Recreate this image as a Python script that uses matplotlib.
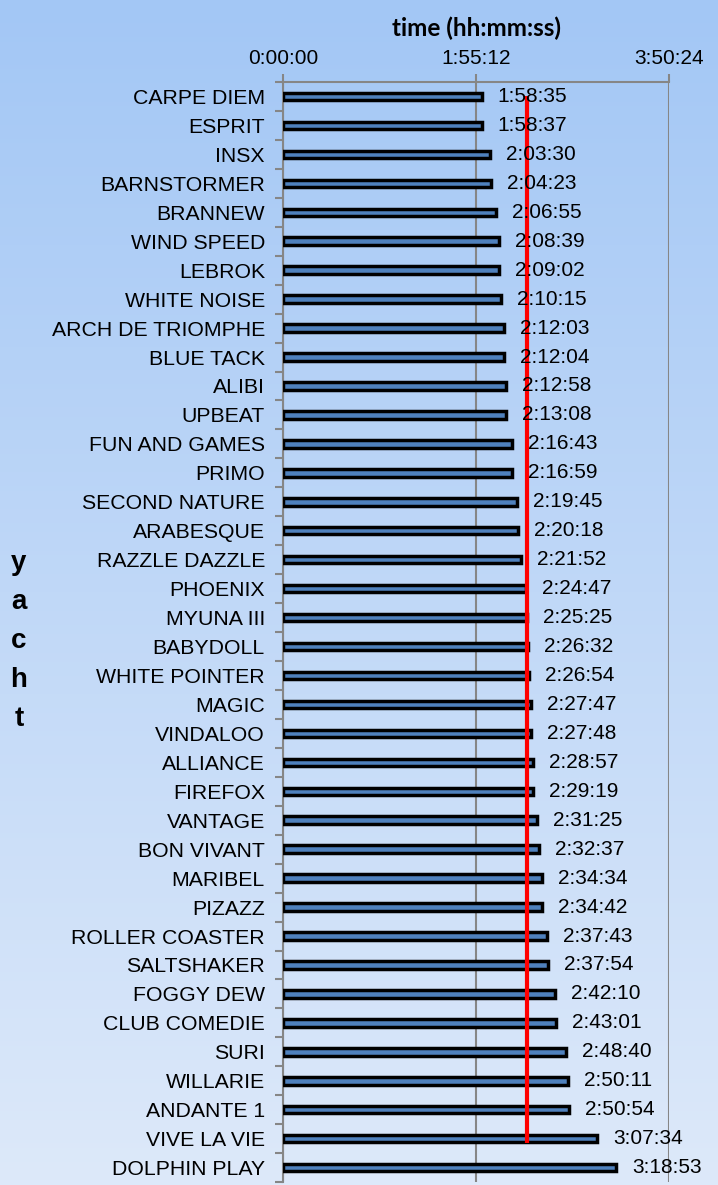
import numpy as np
import matplotlib
matplotlib.use("Agg")
import matplotlib.pyplot as plt
from matplotlib.ticker import FixedLocator, FuncFormatter
from matplotlib.colors import LinearSegmentedColormap

# yachts and elapsed times (hh:mm:ss)
yachts = ["CARPE DIEM", "ESPRIT", "INSX", "BARNSTORMER", "BRANNEW", "WIND SPEED",
          "LEBROK", "WHITE NOISE", "ARCH DE TRIOMPHE", "BLUE TACK", "ALIBI", "UPBEAT",
          "FUN AND GAMES", "PRIMO", "SECOND NATURE", "ARABESQUE", "RAZZLE DAZZLE",
          "PHOENIX", "MYUNA III", "BABYDOLL", "WHITE POINTER", "MAGIC", "VINDALOO",
          "ALLIANCE", "FIREFOX", "VANTAGE", "BON VIVANT", "MARIBEL", "PIZAZZ",
          "ROLLER COASTER", "SALTSHAKER", "FOGGY DEW", "CLUB COMEDIE", "SURI",
          "WILLARIE", "ANDANTE 1", "VIVE LA VIE", "DOLPHIN PLAY"]
times = ["1:58:35", "1:58:37", "2:03:30", "2:04:23", "2:06:55", "2:08:39", "2:09:02",
         "2:10:15", "2:12:03", "2:12:04", "2:12:58", "2:13:08", "2:16:43", "2:16:59",
         "2:19:45", "2:20:18", "2:21:52", "2:24:47", "2:25:25", "2:26:32", "2:26:54",
         "2:27:47", "2:27:48", "2:28:57", "2:29:19", "2:31:25", "2:32:37", "2:34:34",
         "2:34:42", "2:37:43", "2:37:54", "2:42:10", "2:43:01", "2:48:40", "2:50:11",
         "2:50:54", "3:07:34", "3:18:53"]
x_ticks = ["0:00:00", "1:55:12", "3:50:24"]
ref_time = "2:25:30"   # red marker line
ref_span = ("CARPE DIEM", "VIVE LA VIE")


def to_sec(s):
    h, m, sec = s.split(":")
    return int(h) * 3600 + int(m) * 60 + int(sec)


def fmt(v, pos=None):
    v = int(round(v))
    return "%d:%02d:%02d" % (v // 3600, (v % 3600) // 60, v % 60)


secs = np.array([to_sec(t) for t in times])
tick_secs = [to_sec(t) for t in x_ticks]
ypos = np.arange(len(yachts))

fig = plt.figure(figsize=(7.18, 11.85), dpi=100)

# gradient background
bg = fig.add_axes([0, 0, 1, 1], zorder=-10)
cmap = LinearSegmentedColormap.from_list("bg", ["#a3c7f5", "#dde9fa"])
bg.imshow(np.linspace(0, 1, 256).reshape(-1, 1), aspect="auto", cmap=cmap,
          extent=[0, 1, 0, 1])
bg.axis("off")

W, H = 718, 1185
left, right, top = 283, 669, 82
row = 28.95
bottom = top + row * len(yachts)
ax = fig.add_axes([left / W, 1 - bottom / H, (right - left) / W, (bottom - top) / H])
ax.patch.set_alpha(0)

ax.barh(ypos, secs, height=0.26, color="#4f81bd", edgecolor="black", linewidth=2.5, zorder=3)

for y, v, t in zip(ypos, secs, times):
    ax.annotate(t, (v, y), xytext=(16, 0), textcoords="offset pixels",
                ha="left", va="center", fontsize=15, family="Liberation Sans", zorder=5)

r = to_sec(ref_time)
ax.plot([r, r], [yachts.index(ref_span[0]), yachts.index(ref_span[1]) + 0.15],
        color="#ff0000", lw=3, solid_capstyle="butt", zorder=4)

ax.set_xlim(0, tick_secs[-1])
ax.set_ylim(len(yachts) - 0.5, -0.5)
ax.xaxis.set_major_locator(FixedLocator(tick_secs))
ax.xaxis.set_major_formatter(FuncFormatter(fmt))
ax.xaxis.tick_top()
ax.grid(axis="x", color="#868686", lw=1.5, zorder=1)
ax.set_yticks(ypos)
ax.set_yticklabels(yachts, family="Liberation Sans", fontsize=15.3)
ax.set_yticks(np.arange(-0.5, len(yachts), 1), minor=True)
ax.tick_params(axis="y", which="major", length=0, pad=13)
ax.tick_params(axis="y", which="minor", length=6, width=1.5, color="#868686")
ax.tick_params(axis="x", length=6, width=1.5, color="#868686", pad=4,
               labelsize=15)
for lab in ax.get_xticklabels():
    lab.set_family("Liberation Sans")
for s in ["top", "left"]:
    ax.spines[s].set_color("#868686")
    ax.spines[s].set_linewidth(1.5)
ax.spines["right"].set_visible(False)
ax.spines["bottom"].set_visible(False)

fig.text(476 / W, 1 - 28 / H, "time (hh:mm:ss)", ha="center", va="center",
         fontsize=17.5, fontweight="bold", family="Lato")
fig.text(19 / W, 1 - 641 / H, "y\na\nc\nh\nt", ha="center", va="center",
         fontsize=20, fontweight="bold", family="Liberation Sans", linespacing=1.65)

fig.savefig("out.png", dpi=100)
